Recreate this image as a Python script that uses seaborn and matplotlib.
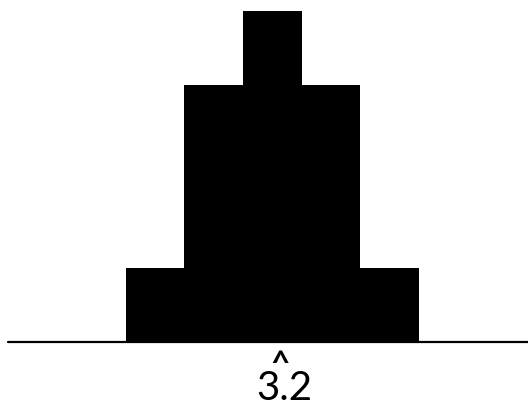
import matplotlib
matplotlib.use("Agg")
import matplotlib.pyplot as plt
import seaborn as sns
import pandas as pd

# Data
values = [1, 2, 3, 4, 5]
counts = [2, 7, 9, 7, 2]
mean_value = 3.2
mean_label = "3.2"

df = pd.DataFrame({"value": values, "count": counts})

sns.set_style("white")
plt.rcParams['font.family'] = ['Lato', 'DejaVu Sans']

fig = plt.figure(figsize=(5.28, 4.08), dpi=100)
ax = fig.add_axes([8 / 528, (408 - 342) / 408, 520 / 528, 331 / 408])

sns.histplot(data=df, x="value", weights="count", discrete=True, ax=ax,
             color="black", alpha=1, linewidth=0, edgecolor="none", shrink=1)

ax.set_xlim(-1.505, 7.357)
ax.set_ylim(0, 9)
ax.axhline(0, color="black", linewidth=1.6, clip_on=False, zorder=5)

for s in ax.spines.values():
    s.set_visible(False)
ax.set_xticks([])
ax.set_yticks([])
ax.set_xlabel("")
ax.set_ylabel("")

trans = ax.get_xaxis_transform()
ax.text(mean_value - 0.07, -0.068, "^", transform=trans, ha="center", va="center",
        fontsize=24, fontweight="bold", color="black", clip_on=False)
ax.text(mean_value, -0.14, mean_label, transform=trans, ha="center", va="center",
        fontsize=29, color="black", clip_on=False)

fig.savefig("out.png", dpi=100)
